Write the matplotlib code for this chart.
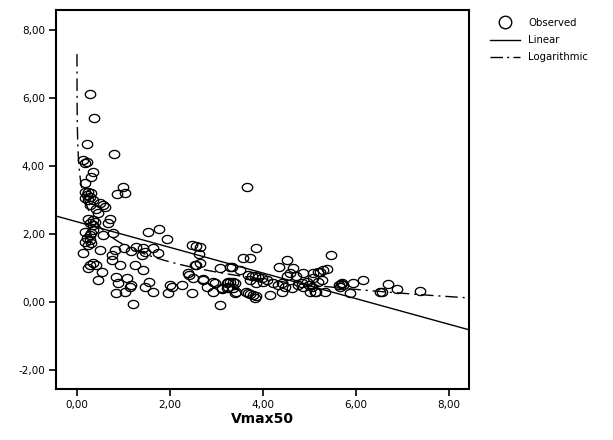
import numpy as np
import matplotlib
matplotlib.use("Agg")
import matplotlib.pyplot as plt
from matplotlib.path import Path
from matplotlib.lines import Line2D
from matplotlib.ticker import FuncFormatter

plt.rcParams['font.family'] = ['DejaVu Sans']

# Observed data (Vmax50, response)
obs_x = [0.29, 0.37, 0.22, 0.14, 0.21, 0.17, 0.34, 0.31, 0.17,
         0.17, 0.24, 0.31, 0.21, 0.28, 0.17, 0.24, 0.35,
         0.49, 0.57, 0.42, 0.46, 0.28, 0.60,
         0.24, 0.35, 0.28, 0.39, 0.35, 0.71, 0.67,
         0.17, 0.35, 0.31, 0.57, 0.78, 0.28,
         0.17, 0.28, 0.24, 0.31, 0.49, 0.14, 0.21,
         0.28, 0.24, 0.35, 0.42, 0.53, 0.46,
         0.80, 1.00, 1.03, 0.87,
         0.82, 0.75, 1.02, 1.16, 1.28, 1.43, 1.46, 1.64, 1.75, 1.39,
         0.75, 0.92, 1.25, 1.43,
         0.85, 1.07, 0.89, 1.14, 1.03, 0.85, 1.17,
         1.46, 1.56, 1.64, 1.21,
         1.53, 1.77, 1.94,
         2.00, 2.04, 2.25, 2.47, 2.72, 2.79, 1.96,
         2.47, 2.57, 2.63, 2.54, 2.57, 2.65, 2.65,
         3.08, 3.29,
         2.39, 2.42, 2.50, 2.72, 2.93, 2.97, 3.11, 2.93, 3.22, 3.25,
         3.08, 3.11, 3.25, 3.36, 3.43,
         3.65, 3.86, 3.58, 3.72, 4.51, 4.35, 3.33, 3.51,
         4.65, 4.58, 4.87, 4.72, 5.08, 5.23, 4.51,
         3.68, 3.76, 3.83, 3.90, 3.97, 3.72, 4.01, 3.86, 4.08,
         4.22, 4.33, 4.40, 4.47, 4.62, 4.40, 4.15, 4.76, 4.87, 4.98, 5.01, 5.15, 4.83,
         3.29, 3.40, 3.22, 3.36, 3.40,
         3.63, 3.68, 3.73, 3.79, 3.85, 3.83,
         5.46, 5.19, 5.30, 5.37, 5.08, 5.19, 5.26, 4.94, 5.05,
         5.12, 5.33,
         5.64, 5.67, 5.70, 5.73, 5.66,
         5.94, 6.16, 5.87, 6.52, 6.55, 6.69, 6.88, 7.38]
obs_y = [6.13, 5.40, 4.65, 4.18, 4.13, 4.08, 3.81, 3.69, 3.51,
         3.24, 3.24, 3.20, 3.15, 3.10, 3.05, 3.00, 3.00,
         2.90, 2.85, 2.75, 2.63, 2.85, 2.78,
         2.43, 2.41, 2.33, 2.36, 2.26, 2.43, 2.33,
         2.07, 2.12, 2.02, 1.97, 2.02, 1.97,
         1.77, 1.82, 1.68, 1.73, 1.53, 1.43, 1.87,
         1.09, 0.99, 1.14, 1.09, 0.89, 0.65,
         4.35, 3.39, 3.21, 3.17,
         1.53, 1.38, 1.58, 1.51, 1.63, 1.58, 1.48, 1.58, 1.45, 1.38,
         1.24, 1.09, 1.09, 0.94,
         0.74, 0.70, 0.55, 0.45, 0.30, 0.26, 0.50,
         0.45, 0.60, 0.30, -0.07,
         2.05, 2.15, 1.84,
         0.50, 0.45, 0.50, 0.26, 0.65, 0.45, 0.26,
         1.68, 1.65, 1.41, 1.09, 1.09, 1.63, 1.14,
         0.99, 1.04,
         0.84, 0.79, 0.70, 0.67, 0.60, 0.55, 0.37, 0.30, 0.55, 0.45,
         -0.09, 0.40, 0.60, 0.60, 0.30,
         3.39, 1.58, 1.30, 1.28, 1.24, 1.04, 1.04, 0.94,
         0.99, 0.84, 0.84, 0.75, 0.84, 0.89, 0.75,
         0.79, 0.75, 0.76, 0.73, 0.70, 0.65, 0.60, 0.55, 0.65,
         0.55, 0.50, 0.55, 0.45, 0.40, 0.30, 0.21, 0.50, 0.45, 0.50, 0.30, 0.30, 0.55,
         0.60, 0.55, 0.40, 0.40, 0.26,
         0.30, 0.26, 0.24, 0.21, 0.18, 0.13,
         1.38, 0.89, 0.94, 0.96, 0.70, 0.60, 0.65, 0.60, 0.45,
         0.30, 0.30,
         0.50, 0.52, 0.55, 0.50, 0.45,
         0.57, 0.65, 0.26, 0.30, 0.28, 0.52, 0.37, 0.32]

# Fitted models
lin_intercept, lin_slope = 2.36, -0.377
log_a, log_b = 1.69, -0.737

x_ticks = [0, 2, 4, 6, 8]
y_ticks = [-2, 0, 2, 4, 6, 8]
x_lim = (-0.45, 8.43)
y_lim = (-2.56, 8.59)

fig = plt.figure(figsize=(6.13, 4.40), dpi=100)
ax = fig.add_axes([56/613, 1-389/440, (469-56)/613, (389-10)/440])

# elliptical open marker
t = np.linspace(0, 2*np.pi, 41)
ell = Path(np.column_stack([np.cos(t), 0.78*np.sin(t)]), closed=True)

ax.plot(obs_x, obs_y, linestyle='none', marker=ell, markersize=7.5,
        markerfacecolor='none', markeredgecolor='black', markeredgewidth=0.95,
        label='Observed')

xl = np.linspace(x_lim[0], x_lim[1], 10)
ax.plot(xl, lin_intercept + lin_slope*xl, color='black', lw=1.0, label='Linear')

xg = np.concatenate([np.geomspace(0.0005, 0.2, 300), np.linspace(0.2, x_lim[1], 300)])
ax.plot(xg, log_a + log_b*np.log(xg), color='black', lw=1.0,
        dashes=(9, 3.5, 1.5, 3.5), label='Logarithmic')

ax.set_xlim(*x_lim)
ax.set_ylim(*y_lim)
ax.set_xticks(x_ticks)
ax.set_yticks(y_ticks)
fmt = FuncFormatter(lambda v, p: f"{v:.2f}".replace('.', ','))
ax.xaxis.set_major_formatter(fmt)
ax.yaxis.set_major_formatter(fmt)
ax.tick_params(direction='out', length=5, width=1.2, labelsize=7.5, pad=3)
for s in ax.spines.values():
    s.set_linewidth(1.5)
ax.set_xlabel('Vmax50', fontsize=10, fontweight='bold', labelpad=1)

handles = [Line2D([], [], linestyle='none', marker='o', markersize=9,
                  markerfacecolor='none', markeredgecolor='black', markeredgewidth=1.0),
           Line2D([], [], color='black', lw=1.0),
           Line2D([], [], color='black', lw=1.0, dashes=(9, 3, 1.5, 3))]
fig.legend(handles, ['Observed', 'Linear', 'Logarithmic'], loc='upper left',
           bbox_to_anchor=(490/613, 1-18/440), frameon=False, fontsize=7.3,
           handlelength=3.0, handletextpad=0.75, labelspacing=0.7, borderpad=0,
           borderaxespad=0)

fig.savefig('out.png', dpi=100)
